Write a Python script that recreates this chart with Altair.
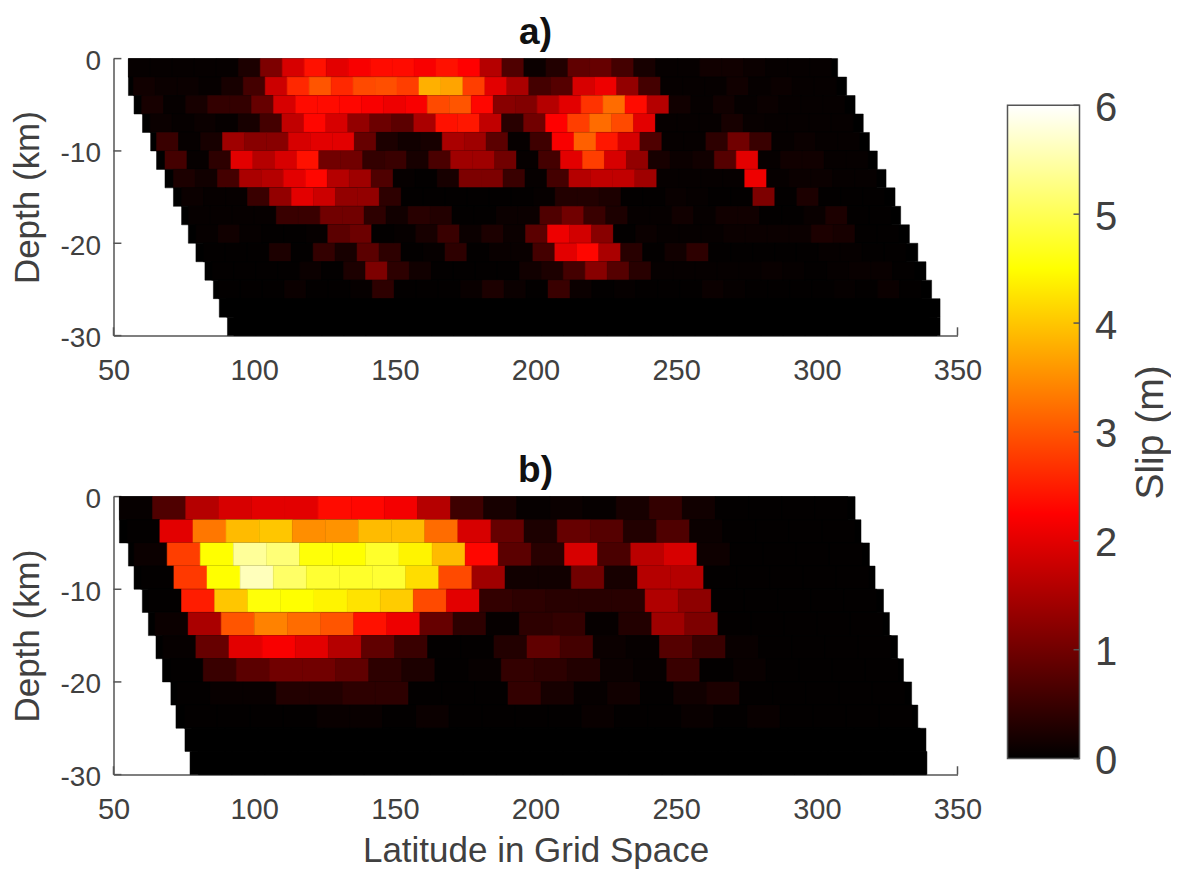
import altair as alt
import pandas as pd

FONT = "Liberation Sans"
GRAY = "#404040"
LINE = "#555555"

# ---- panel a: 15 rows of 2 km, 32 cells of 7.81 grid units ----
a_cell = 7.81
a_start = [55.3, 57.05, 60.0, 63.0, 65.3, 68.3, 71.3, 74.2, 76.6, 79.3, 81.9, 84.9, 87.3, 90.2, 92.8]
a_left = [55.3, 55.3, 57.3, 60.3, 63.2, 65.3, 68.3, 71.3, 74.2, 76.6, 79.3, 82.5, 85.5, 87.6, 90.5]
a_right = [307.4, 310.6, 313.6, 316.5, 318.7, 321.5, 324.6, 327.8, 329.8, 332.9, 335.9, 338.8, 340.8, 343.8, 343.8]
a_slip = [
    [.05,.05,.05,.05,.05,.25,1.1,1.9,2.4,2.0,2.2,2.35,2.35,2.2,2.4,2.25,1.6,.7,.1,.3,.85,.9,.6,.2,.05,.05,.15,.15,.1,.05,.05,.05],
    [.15,.1,.1,.05,.2,.6,1.8,2.6,3.0,2.6,2.9,2.95,2.8,3.8,3.7,2.8,2.0,1.5,.6,.75,1.9,2.1,1.3,.6,.05,.05,.05,.15,.05,.1,.05,.05],
    [.2,.05,.2,.45,.45,.9,1.9,2.35,2.35,2.3,2.2,2.1,2.2,2.9,3.0,2.3,1.2,1.15,1.6,2.0,2.7,3.2,2.35,1.6,.15,.05,.15,.05,.1,.05,.05,.05],
    [.1,.05,.1,.05,.2,.6,1.7,2.3,1.9,1.3,.95,.8,1.5,2.4,2.45,1.7,.35,1.0,2.25,2.8,3.2,2.9,2.0,.05,.05,.05,.2,.07,.05,.05,.05,.05],
    [.5,.05,.2,1.4,1.2,1.2,1.9,2.0,2.0,.9,.25,.15,.2,1.5,1.4,.8,.05,.55,2.2,3.1,2.45,1.9,.7,.05,.05,.4,1.0,.5,.05,.1,.05,.05],
    [.6,.05,.4,2.0,1.6,1.9,2.4,1.0,1.0,.45,.5,.2,.65,1.4,1.4,1.0,.05,.6,2.0,2.8,1.9,1.3,.2,.1,.15,.75,2.0,.05,.15,.15,.05,.05],
    [.25,.15,.6,1.5,1.6,2.0,2.3,1.6,1.4,.7,.05,.03,.2,1.1,1.1,.5,.05,.6,1.6,1.7,1.7,1.4,.05,.05,.05,.05,2.1,.05,.1,.1,.05,.05],
    [.1,.05,.05,.5,1.3,2.0,1.8,1.3,1.3,.4,.03,.03,.03,.03,.03,.03,.05,.3,.3,.25,.03,.03,.08,.05,.03,.03,1.1,.03,.25,.03,.03,.03],
    [.05,.05,.05,.05,.5,.5,1.0,1.0,.4,.15,.35,.3,.03,.03,.1,.1,.7,1.0,.5,.25,.05,.05,.15,.05,.15,.15,.03,.03,.08,.25,.03,.03],
    [.05,.15,.05,.03,.03,.05,.8,.95,.03,.05,.2,.5,.1,.25,.1,.8,2.1,1.85,1.2,.03,.1,.05,.05,.05,.1,.1,.1,.1,.25,.2,.03,.03],
    [.03,.03,.03,.25,.03,.45,.2,.8,.4,.03,.05,.4,.03,.08,.08,.6,2.0,2.3,1.5,.35,.03,.15,.4,.03,.03,.03,.03,.03,.05,.05,.03,.03],
    [.03,.03,.03,.03,.1,.03,.25,1.1,.4,.15,.03,.03,.03,.03,.15,.25,.6,1.2,.75,.35,.05,.05,.05,.05,.05,.08,.05,.03,.05,.08,.08,.03],
    [.03,.03,.03,.1,.03,.03,.05,.4,.03,.03,.03,.08,.25,.1,.03,.5,.1,.03,.05,.03,.03,.03,.1,.05,.03,.03,.03,.03,.05,.03,.1,.03],
    [0] * 32,
    [0] * 32,
]

# ---- panel b: 12 rows of 2.5 km, 22 cells of 11.77 grid units ----
b_cell = 11.77
b_start = [52.1, 54.7, 57.3, 59.7, 62.4, 64.75, 67.5, 70.1, 72.5, 75.1, 77.8, 80.2]
b_left = [52.1, 52.1, 55.3, 57.3, 60.25, 62.4, 65.1, 67.4, 70.4, 72.2, 75.4, 77.2]
b_right = [313.6, 315.7, 318.7, 320.7, 323.7, 325.8, 328.7, 330.8, 333.7, 335.9, 338.8, 338.8]
b_slip = [
    [.05,.7,1.6,1.9,2.0,2.0,2.35,2.3,2.15,1.6,.55,.2,.05,.1,.05,.2,.45,.15,.03,.03,.03,.03],
    [.03,2.0,3.3,3.9,4.0,3.5,3.55,3.9,3.9,3.2,1.9,.9,.25,.9,.75,.3,.7,.1,.03,.03,.03,.03],
    [.1,2.8,4.5,5.4,5.2,4.55,4.5,4.75,4.4,3.9,2.3,.8,.35,1.9,.65,1.65,1.9,.12,.03,.03,.03,.03],
    [.03,2.75,4.5,5.6,5.1,4.8,4.75,4.8,4.2,2.9,1.4,.15,.15,1.0,.2,1.6,1.6,.03,.03,.03,.03,.03],
    [.03,2.5,4.0,4.55,4.5,4.4,4.25,4.05,2.9,2.0,.45,.4,.35,.35,.35,1.55,1.25,.03,.03,.03,.03,.03],
    [.1,1.5,3.0,3.4,3.2,3.0,2.4,2.1,.9,.4,.05,.4,.45,.05,.3,1.4,1.1,.03,.03,.03,.03,.03],
    [.05,.9,2.0,2.2,2.0,1.6,.85,.5,.03,.03,.3,.85,.6,.1,.05,.75,.5,.08,.03,.03,.03,.03],
    [.03,.5,.8,1.0,1.0,.85,.4,.25,.03,.06,.45,.4,.3,.1,.05,.5,.03,.08,.03,.03,.03,.03],
    [.03,.07,.07,.3,.3,.4,.4,.03,.03,.03,.45,.2,.05,.15,.03,.15,.25,.03,.03,.03,.03,.03],
    [.03,.03,.03,.03,.08,.08,.03,.1,.03,.03,.03,.03,.08,.03,.03,.08,.03,.08,.03,.03,.03,.03],
    [0] * 22,
    [0] * 22,
]

x_ticks = [50, 100, 150, 200, 250, 300, 350]
y_ticks = [0, -10, -20, -30]
cb_ticks = [0, 1, 2, 3, 4, 5, 6]
hot_values = [0, 2.25, 4.5, 6]
hot_colors = ["#000000", "#ff0000", "#ffff00", "#ffffff"]


def cells(slip, start, left, right, width, dz):
    rows = []
    for r, vals in enumerate(slip):
        top, bottom = -dz * r, -dz * (r + 1)
        rows.append(dict(x0=left[r], x1=right[r], y0=top, y1=bottom, v=0.0))
        for c, v in enumerate(vals):
            x0 = start[r] + width * c
            rows.append(dict(x0=x0, x1=x0 + width, y0=top, y1=bottom, v=float(v)))
    return pd.DataFrame(rows)


xs = alt.Scale(domain=[50, 350], nice=False, zero=False)
ys = alt.Scale(domain=[-30, 0], nice=False, zero=False)
cs = alt.Scale(domain=hot_values, range=hot_colors, interpolate="rgb")


def panel(df, title, h, xtitle=None):
    x_opts = dict(values=x_ticks, grid=False, ticks=False, labelFont=FONT, labelFontSize=29,
                  labelColor=GRAY, domainColor=LINE, domainWidth=1.5, labelPadding=21,
                  labelFlush=False, labelOverlap=False, format="d")
    if xtitle:
        x_opts.update(title=xtitle, titleFont=FONT, titleFontSize=35, titleFontWeight="normal",
                      titleColor=GRAY, titlePadding=9)
    else:
        x_opts.update(title=None)
    x_axis = alt.Axis(**x_opts)
    y_axis = alt.Axis(
        values=y_ticks, grid=False, ticks=False, labelFont=FONT, labelFontSize=28,
        labelColor=GRAY, domainColor=LINE, domainWidth=1.5, labelPadding=13, labelFlush=False,
        labelOffset=3, labelExpr="datum.value + ''", title="Depth (km)", titleFont=FONT,
        titleFontSize=35, titleFontWeight="normal", titleColor=GRAY, titlePadding=15)
    rects = alt.Chart(df).mark_rect(strokeWidth=0.5).encode(
        x=alt.X("x0:Q", scale=xs, axis=x_axis),
        x2="x1:Q",
        y=alt.Y("y0:Q", scale=ys, axis=y_axis),
        y2="y1:Q",
        fill=alt.Fill("v:Q", scale=cs, legend=None),
        stroke=alt.Stroke("v:Q", scale=cs, legend=None),
    )
    ytick_df = pd.DataFrame({"y": y_ticks, "x": [50] * len(y_ticks), "x2": [52.8] * len(y_ticks)})
    yt = alt.Chart(ytick_df).mark_rule(color=LINE, strokeWidth=1.5).encode(
        x=alt.X("x:Q", scale=xs, axis=x_axis), x2="x2:Q", y=alt.Y("y:Q", scale=ys, axis=y_axis))
    xtick_df = pd.DataFrame({"x": x_ticks, "y": [-30] * len(x_ticks), "y2": [-29.1] * len(x_ticks)})
    xt = alt.Chart(xtick_df).mark_rule(color=LINE, strokeWidth=1.5).encode(
        x=alt.X("x:Q", scale=xs, axis=x_axis), y=alt.Y("y:Q", scale=ys, axis=y_axis), y2="y2:Q")
    return alt.layer(yt, xt, rects).properties(
        width=844, height=h,
        title=alt.TitleParams(title, font=FONT, fontSize=37, fontWeight="bold", color="#111111", offset=-4),
    )


pa = panel(cells(a_slip, a_start, a_left, a_right, a_cell, 2.0), "a)", 277)
pb = panel(cells(b_slip, b_start, b_left, b_right, b_cell, 2.5), "b)", 278, "Latitude in Grid Space")

# ---- colour bar ----
cb_top, cb_bottom = 46.7, 700
cb_scale = alt.Scale(domain=[0, 6], range=[cb_bottom, cb_top], nice=False, zero=False)
cb_axis = alt.Axis(
    values=cb_ticks, orient="right", grid=False, ticks=False, domain=False,
    labelFont=FONT, labelFontSize=40, labelColor=GRAY, labelPadding=15, labelFlush=False, labelOffset=3,
    title="Slip (m)", titleFont=FONT, titleFontSize=39, titleFontWeight="normal",
    titleColor=GRAY, titleAngle=270, titleBaseline="alphabetic", titleX=83)
hot_gradient = alt.LinearGradient(
    gradient="linear", x1=0, x2=0, y1=1, y2=0,
    stops=[alt.GradientStop(color=c, offset=v / 6) for v, c in zip(hot_values, hot_colors)],
)
bar = alt.Chart(pd.DataFrame({"lo": [0], "hi": [6]})).mark_rect(
    fill=hot_gradient, stroke=LINE, strokeWidth=1.5
).encode(
    x=alt.value(0), x2=alt.value(72),
    y=alt.Y("lo:Q", scale=cb_scale, axis=cb_axis),
    y2="hi:Q",
)
bar_ticks = alt.Chart(pd.DataFrame({"y": cb_ticks})).mark_rule(color=LINE, strokeWidth=1.5).encode(
    x=alt.value(66), x2=alt.value(72),
    y=alt.Y("y:Q", scale=cb_scale, axis=cb_axis),
)
cbar = alt.layer(bar, bar_ticks).properties(width=72, height=720)

left = alt.vconcat(pa, pb, spacing=66)
chart = alt.hconcat(left, cbar, spacing=24).properties(
    padding={"left": 1.5, "top": 5.6, "right": 0, "bottom": 0}, background="white"
).configure_view(stroke=None)

chart.save("out.html", embed_options={"renderer": "svg", "actions": False})
